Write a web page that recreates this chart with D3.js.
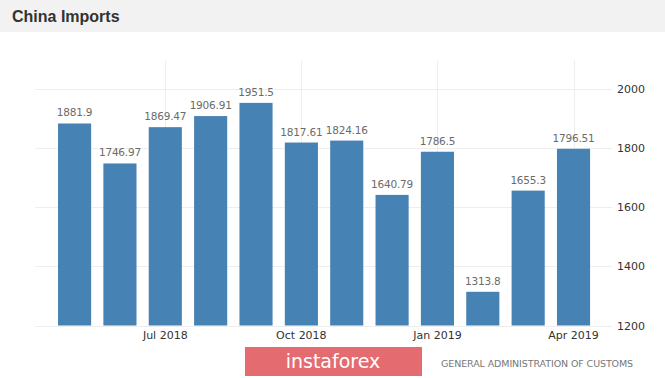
<!DOCTYPE html>
<html>
<meta charset="utf-8">
<style>
body { margin: 0; background: #fff; }
svg { display: block; }
</style>
<body>
<script src="https://d3js.org/d3.v7.min.js"></script>
<script>
var width = 665,
    height = 378;

// data
var months = ["May 2018", "Jun 2018", "Jul 2018", "Aug 2018", "Sep 2018", "Oct 2018",
              "Nov 2018", "Dec 2018", "Jan 2019", "Feb 2019", "Mar 2019", "Apr 2019"];
var imports = [1881.9, 1746.97, 1869.47, 1906.91, 1951.5, 1817.61,
               1824.16, 1640.79, 1786.5, 1313.8, 1655.3, 1796.51];
var labels = ["1881.9", "1746.97", "1869.47", "1906.91", "1951.5", "1817.61",
              "1824.16", "1640.79", "1786.5", "1313.8", "1655.3", "1796.51"];
var xTicks = ["Jul 2018", "Oct 2018", "Jan 2019", "Apr 2019"];
var yTicks = [1200, 1400, 1600, 1800, 2000];

var svg = d3.select("body").append("svg")
    .attr("width", width)
    .attr("height", height);

// header
svg.append("rect")
    .attr("x", 0).attr("y", 0)
    .attr("width", width).attr("height", 32)
    .style("fill", "#f2f2f2");
svg.append("text")
    .attr("x", 12).attr("y", 22)
    .style("font", "bold 16px 'Liberation Sans', Arial, sans-serif")
    .style("fill", "#333")
    .text("China Imports");

var x = d3.scaleBand()
    .domain(months)
    .range([51.9, 596.2])
    .paddingInner(0.27)
    .paddingOuter(0.135);

var y = d3.scaleLinear()
    .domain([1200, 2000])
    .range([325.5, 88.5]);

var g = svg.append("g");

// horizontal grid
g.selectAll(".hgrid")
    .data(yTicks)
    .enter().append("line")
    .attr("x1", 35).attr("x2", 612)
    .attr("y1", function(d) { return Math.round(y(d)) + 0.5; })
    .attr("y2", function(d) { return Math.round(y(d)) + 0.5; })
    .style("stroke", "#eeeeee")
    .style("stroke-width", 1);

// vertical grid at tick months
g.selectAll(".vgrid")
    .data(xTicks)
    .enter().append("line")
    .attr("x1", function(d) { return Math.round(x(d) + x.bandwidth() / 2) + 0.5; })
    .attr("x2", function(d) { return Math.round(x(d) + x.bandwidth() / 2) + 0.5; })
    .attr("y1", 60).attr("y2", 326)
    .style("stroke", "#eeeeee")
    .style("stroke-width", 1);

// bars
g.selectAll(".bar")
    .data(imports)
    .enter().append("rect")
    .attr("class", "bar")
    .attr("x", function(d, i) { return x(months[i]); })
    .attr("width", x.bandwidth())
    .attr("y", function(d) { return y(d); })
    .attr("height", function(d) { return y(1200) - y(d); })
    .style("fill", "#4682b4");

// value labels
g.selectAll(".val")
    .data(imports)
    .enter().append("text")
    .attr("x", function(d, i) { return x(months[i]) + x.bandwidth() / 2; })
    .attr("y", function(d) { return y(d) - 7; })
    .attr("text-anchor", "middle")
    .style("font", "10.5px 'DejaVu Sans', sans-serif")
    .style("letter-spacing", "-0.2px")
    .style("fill", "#6b6b6b")
    .text(function(d, i) { return labels[i]; });

// x axis labels
g.selectAll(".xlab")
    .data(xTicks)
    .enter().append("text")
    .attr("x", function(d) { return x(d) + x.bandwidth() / 2; })
    .attr("y", 339)
    .attr("text-anchor", "middle")
    .style("font", "11px 'DejaVu Sans', sans-serif")
    .style("fill", "#333")
    .text(function(d) { return d; });

// y axis labels
g.selectAll(".ylab")
    .data(yTicks)
    .enter().append("text")
    .attr("x", 617)
    .attr("y", function(d) { return y(d) + 4; })
    .style("font", "11px 'DejaVu Sans', sans-serif")
    .style("fill", "#333")
    .text(function(d) { return d; });

// footer
svg.append("rect")
    .attr("x", 245).attr("y", 347)
    .attr("width", 177).attr("height", 29)
    .style("fill", "#e46c70");
svg.append("text")
    .attr("x", 333).attr("y", 368)
    .attr("text-anchor", "middle")
    .style("font", "19px 'DejaVu Sans', sans-serif")
    .style("fill", "#fff")
    .text("instaforex");
svg.append("text")
    .attr("x", 441).attr("y", 367)
    .style("font", "9.5px 'DejaVu Sans', sans-serif")
    .style("letter-spacing", "-0.1px")
    .style("fill", "#777")
    .text("GENERAL ADMINISTRATION OF CUSTOMS");
</script>
</body>
</html>
